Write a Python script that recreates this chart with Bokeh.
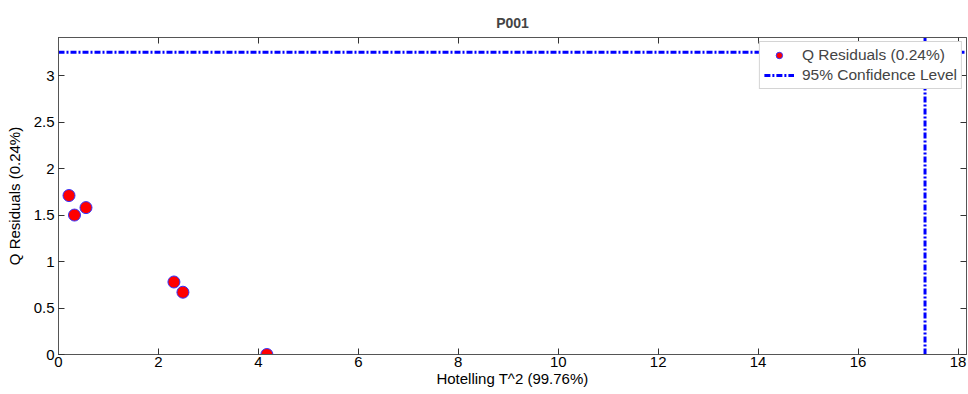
from bokeh.plotting import figure
from bokeh.models import Range1d, LinearAxis, Legend, LegendItem, ColumnDataSource, FixedTicker, CustomJSTickFormatter
from bokeh.embed import file_html
from bokeh.resources import INLINE

# Data
hotelling_t2 = [0.21, 0.32, 0.55, 2.31, 2.49, 4.17]
q_residuals = [1.71, 1.50, 1.58, 0.78, 0.67, 0.0]
t2_limit = 17.34
q_limit = 3.25
x_lim = [0, 18.17]
y_lim = [0, 3.41]
x_ticks = [0, 2, 4, 6, 8, 10, 12, 14, 16, 18]
y_ticks = [0, 0.5, 1, 1.5, 2, 2.5, 3]

FONT = "Liberation Sans"

p = figure(width=968, height=394, output_backend="svg", toolbar_location=None,
           x_range=Range1d(*x_lim), y_range=Range1d(*y_lim),
           min_border_left=58, min_border_right=2, min_border_bottom=40, min_border_top=37)
p.title.text = "P001"
p.title.align = "center"
p.title.text_font = FONT
p.title.text_font_size = "14px"
p.title.text_font_style = "bold"
p.title.standoff = 14
p.xgrid.visible = False
p.ygrid.visible = False
p.outline_line_color = "#555555"
p.background_fill_color = "white"

for ax in (p.xaxis[0], p.yaxis[0]):
    ax.major_tick_in = 6
    ax.major_tick_out = 0
    ax.minor_tick_line_color = None
    ax.axis_line_color = "#555555"
    ax.major_tick_line_color = "#333333"
    ax.major_label_text_font = FONT
    ax.major_label_text_font_size = "15px"
    ax.major_label_text_color = "black"
    ax.axis_label_text_font = FONT
    ax.axis_label_text_font_size = "15px"
    ax.axis_label_text_font_style = "normal"
    ax.axis_label_text_color = "black"

p.xaxis[0].ticker = FixedTicker(ticks=x_ticks)
p.yaxis[0].ticker = FixedTicker(ticks=y_ticks)
p.xaxis[0].axis_label = "Hotelling T^2 (99.76%)"
p.yaxis[0].axis_label = "Q Residuals (0.24%)"
p.xaxis[0].major_label_standoff = 2
p.xaxis[0].axis_label_standoff = 0
p.yaxis[0].major_label_standoff = 4
p.yaxis[0].axis_label_standoff = 8

blank = CustomJSTickFormatter(code="return ''")
top_ax = LinearAxis(ticker=FixedTicker(ticks=x_ticks), major_tick_in=6, major_tick_out=0,
                    minor_tick_line_color=None, formatter=blank,
                    major_label_standoff=0, axis_line_color="#555555", major_tick_line_color="#333333")
right_ax = LinearAxis(ticker=FixedTicker(ticks=y_ticks), major_tick_in=6, major_tick_out=0,
                      minor_tick_line_color=None, formatter=blank,
                      major_label_standoff=0, axis_line_color="#555555", major_tick_line_color="#333333")
p.add_layout(top_ax, "above")
p.add_layout(right_ax, "right")

line_style = dict(line_color="#0000ff", line_width=3, line_dash="6 2 2 2")
hline = p.line(x=x_lim, y=[q_limit, q_limit], **line_style)
vline = p.line(x=[t2_limit, t2_limit], y=y_lim, **line_style)

src = ColumnDataSource(dict(x=hotelling_t2, y=q_residuals))
pts = p.scatter("x", "y", source=src, size=12, fill_color="red", line_color="#3333ff", line_width=1)

legend = Legend(items=[LegendItem(label="Q Residuals (0.24%)", renderers=[pts]),
                       LegendItem(label="95% Confidence Level", renderers=[hline])],
                location="top_right", label_text_font=FONT, label_text_font_size="15.5px",
                border_line_color="#aaaaaa", background_fill_alpha=1.0,
                glyph_width=30, glyph_height=16, label_height=16, spacing=2,
                padding=4, margin=4, label_standoff=8)
p.add_layout(legend)

open("out.html", "w").write(file_html(p, INLINE))
